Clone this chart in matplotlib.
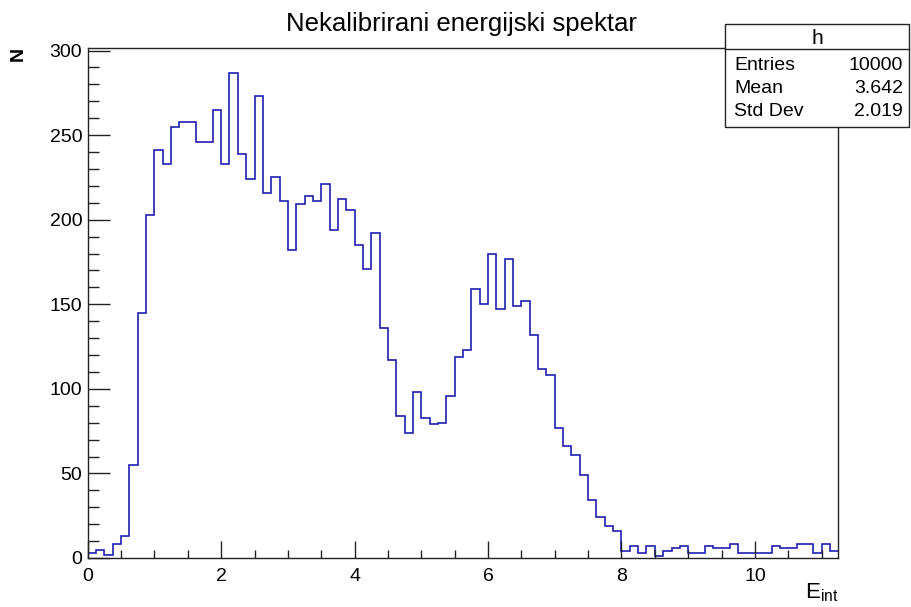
"""Uncalibrated energy spectrum histogram, ROOT-style."""

import numpy as np
import matplotlib
matplotlib.use('Agg')
import matplotlib.pyplot as plt
from matplotlib.patches import Rectangle
from matplotlib.lines import Line2D
from matplotlib.ticker import MultipleLocator

# Histogram: 90 bins from 0 to 11.25
x_min = 0.0
x_max = 11.25
counts = [3, 5, 2, 8, 13, 55, 145, 203, 241, 233,
          255, 258, 258, 246, 246, 265, 233, 287, 239, 224,
          273, 216, 225, 211, 182, 209, 214, 211, 221, 194,
          212, 206, 185, 171, 192, 136, 117, 84, 74, 98,
          83, 79, 80, 96, 119, 123, 159, 150, 180, 147,
          177, 149, 152, 132, 112, 108, 77, 66, 61, 49,
          34, 24, 19, 16, 4, 7, 3, 7, 1, 4,
          6, 7, 3, 3, 7, 6, 6, 8, 3, 3,
          3, 3, 7, 6, 6, 8, 8, 3, 8, 4]

stat_names = ['Entries', 'Mean', 'Std Dev']
stat_values = ['10000', '3.642', '2.019']

plt.rcParams['font.family'] = ['Liberation Sans', 'DejaVu Sans']
plt.rcParams['mathtext.fontset'] = 'custom'
plt.rcParams['mathtext.rm'] = 'Liberation Sans'

W, H = 911, 607
fig = plt.figure(figsize=(W / 100, H / 100), dpi=100)

def fx(px):
    return px / W

def fy(py):
    return 1 - py / H

# main frame
left, right, top, bottom = 87.7, 838.3, 48.3, 558.0
ax = fig.add_axes([fx(left), fy(bottom), fx(right - left), (bottom - top) / H])

edges = np.linspace(x_min, x_max, len(counts) + 1)
ax.stairs(counts, edges, baseline=None, color='#1f1fb0', linewidth=1.2)

ax.set_xlim(x_min, x_max)
ax.set_ylim(0, max(counts) * 1.05)

ax.xaxis.set_major_locator(MultipleLocator(2))
ax.xaxis.set_minor_locator(MultipleLocator(0.5))
ax.yaxis.set_major_locator(MultipleLocator(50))
ax.yaxis.set_minor_locator(MultipleLocator(10))
ax.tick_params(which='both', direction='in', top=False, right=False,
               labelsize=14, color='#222222')
ax.tick_params(axis='x', which='major', length=12, width=1.0, pad=7)
ax.tick_params(axis='x', which='minor', length=6, width=1.0)
ax.tick_params(axis='y', which='major', length=16, width=1.0, pad=4)
ax.tick_params(axis='y', which='minor', length=8, width=1.0)
for sp in ax.spines.values():
    sp.set_linewidth(1.0)
    sp.set_color('#222222')

# title and axis titles
fig.text(fx(461), fy(31), 'Nekalibrirani energijski spektar', fontsize=18.5,
         ha='center', va='baseline')
fig.text(fx(838), fy(593), r'E$_{\mathrm{int}}$', fontsize=16,
         ha='right', va='center')
fig.text(fx(18), fy(54), 'N', fontsize=14, fontweight='bold', rotation=90,
         ha='center', va='center')

# stats box
bx0, bx1, by0, by1, bh = 725, 909, 24.3, 126.7, 49.3
fig.add_artist(Rectangle((fx(bx0), fy(by1)), fx(bx1 - bx0), (by1 - by0) / H,
                         transform=fig.transFigure, facecolor='white',
                         edgecolor='#222222', linewidth=1.0, zorder=5))
fig.add_artist(Line2D([fx(bx0), fx(bx1)], [fy(bh), fy(bh)],
                      transform=fig.transFigure, color='#222222',
                      linewidth=1.0, zorder=6))
fig.text(fx((bx0 + bx1) / 2), fy(38), 'h', fontsize=15, ha='center',
         va='center', zorder=7)
row_y = [65, 88.5, 112]
for name, val, yy in zip(stat_names, stat_values, row_y):
    fig.text(fx(734), fy(yy), name, fontsize=14, ha='left', va='center', zorder=7)
    fig.text(fx(903), fy(yy), val, fontsize=14, ha='right', va='center', zorder=7)

fig.savefig('out.png', dpi=100)
